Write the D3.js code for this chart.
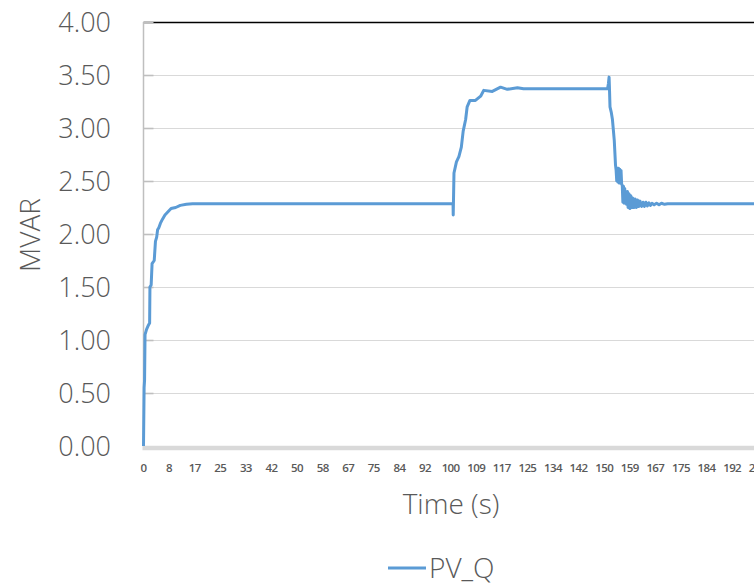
<!DOCTYPE html>
<html><head><meta charset="utf-8">
<script src="https://cdn.jsdelivr.net/npm/d3@7"></script>
<style>body{margin:0;background:#fff}svg{display:block}text{font-family:"Open Sans",sans-serif;fill:#595959}</style>
</head><body><svg id="c" width="754" height="586"></svg>
<script>
const seriesName = "PV_Q";
const time = [0,0.2,0.35,0.5,1.0,1.6,2.0,2.1,2.5,2.8,3.5,3.9,4.3,4.6,5.0,5.5,6.2,7.0,8.0,9.0,10.5,12,14,16,
  101.0,101.05,101.3,102.1,102.9,103.7,104.3,105.1,105.6,106.5,108.3,110.0,111.0,113.8,116.5,118.7,122.0,124.0,
  151.4,151.7,151.9,152.0,152.2,152.6,153.0,153.3,153.6,154.0,154.2,
  154.4,154.6,154.8,155.0,155.2,155.4,155.6,155.8,156.0,
  156.2,156.4,156.6,156.8,157.0,157.2,157.4,157.6,
  157.9,158.1,158.4,158.7,159.0,159.3,159.6,
  160.0,160.4,160.8,161.2,161.6,162.0,162.5,163.0,
  163.4,163.9,164.4,164.9,165.4,165.9,
  166.6,167.4,168.2,169,170,171,172,205];
const pvQ = [0,0.55,0.62,1.05,1.10,1.14,1.16,1.50,1.52,1.72,1.75,1.93,1.97,2.04,2.06,2.10,2.14,2.18,2.21,2.24,2.25,2.27,2.28,2.285,
  2.285,2.18,2.575,2.68,2.73,2.82,2.97,3.08,3.20,3.26,3.26,3.30,3.355,3.345,3.385,3.365,3.38,3.37,
  3.37,3.42,3.48,3.40,3.20,3.15,3.08,2.98,2.88,2.65,2.60,
  2.50,2.62,2.49,2.62,2.48,2.61,2.48,2.60,2.47,
  2.46,2.30,2.45,2.29,2.43,2.29,2.40,2.28,
  2.40,2.25,2.38,2.24,2.36,2.25,2.34,
  2.25,2.33,2.25,2.32,2.26,2.31,2.26,2.30,
  2.26,2.30,2.265,2.295,2.27,2.29,
  2.275,2.29,2.275,2.29,2.28,2.285,2.285,2.285];
const yTicks = [0,0.5,1,1.5,2,2.5,3,3.5,4];
const xTickTimes = [0,8.35,16.7,25.05,33.4,41.75,50.1,58.45,66.8,75.15,83.5,91.85,100.2,108.55,116.9,125.25,133.6,141.95,150.3,158.65,167,175.35,183.7,192.05,200.4];
const xTickLabels = ["0","8","17","25","33","42","50","58","67","75","84","92","100","109","117","125","134","142","150","159","167","175","184","192","200"];

const svg = d3.select("#c");
const L = 143.5, T = 22, B = 446;
const x = d3.scaleLinear().domain([0,200]).range([L, L+200*3.065]);
const y = d3.scaleLinear().domain([0,4]).range([B, T]);

// gridlines
svg.append("g").selectAll("line").data(yTicks.filter(d=>d>0)).join("line")
  .attr("x1", L).attr("x2", 754).attr("y1", d=>y(d)+0.5).attr("y2", d=>y(d)+0.5)
  .attr("stroke", d=> d===4 ? "#000" : "#d9d9d9").attr("stroke-width", d=> d===4 ? 1.6 : 1.2);
// inward tick marks
svg.append("g").selectAll("line").data(yTicks.filter(d=>d>0)).join("line")
  .attr("x1", L).attr("x2", L+10).attr("y1", d=>y(d)+0.5).attr("y2", d=>y(d)+0.5)
  .attr("stroke", "#bfbfbf").attr("stroke-width", 1.6);
// y axis line
svg.append("line").attr("x1", L).attr("x2", L).attr("y1", T).attr("y2", B)
  .attr("stroke", "#bfbfbf").attr("stroke-width", 1.5);
// x axis band
svg.append("line").attr("x1", L-1).attr("x2", 754).attr("y1", B+2).attr("y2", B+2)
  .attr("stroke", "#d9d9d9").attr("stroke-width", 4.5);

// y labels
svg.append("g").selectAll("text").data(yTicks).join("text")
  .attr("x", 111).attr("y", d=>y(d)).attr("dy", "0.36em").attr("text-anchor","end")
  .attr("font-size", 27).attr("font-weight", 300).text(d=>d.toFixed(2));
// x labels
svg.append("g").selectAll("text").data(xTickTimes).join("text")
  .attr("x", d=>x(d)).attr("y", 472).attr("text-anchor","middle")
  .attr("font-size", 11.5).attr("font-weight", 600).attr("letter-spacing", -0.6)
  .text((d,i)=>xTickLabels[i]);

// axis titles
svg.append("text").attr("transform","translate(40,235) rotate(-90)").attr("text-anchor","middle")
  .attr("font-size", 28).attr("font-weight", 300).text("MVAR");
svg.append("text").attr("x", 451).attr("y", 514).attr("text-anchor","middle")
  .attr("font-size", 28).attr("font-weight", 300).text("Time (s)");

// series
const pts = time.map((t,i)=>[t,pvQ[i]]);
svg.append("path").datum(pts)
  .attr("d", d3.line().x(d=>x(d[0])).y(d=>y(d[1])))
  .attr("fill","none").attr("stroke","#5b9bd5").attr("stroke-width",3).attr("stroke-linejoin","round");

// legend
svg.append("line").attr("x1",388).attr("x2",426).attr("y1",568).attr("y2",568)
  .attr("stroke","#5b9bd5").attr("stroke-width",3);
svg.append("text").attr("x",429).attr("y",578).attr("font-size",28).attr("font-weight",300).text(seriesName);
</script></body></html>
